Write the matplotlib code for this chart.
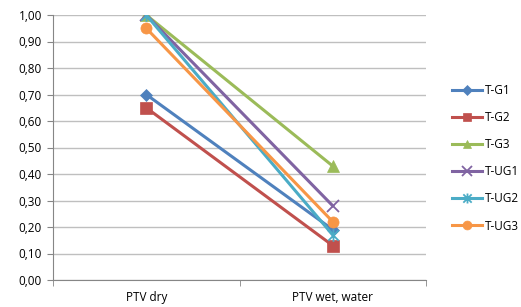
import matplotlib.pyplot as plt
import numpy as np
from matplotlib.path import Path
from matplotlib.ticker import FixedLocator

plt.rcParams['font.family'] = ['Open Sans', 'DejaVu Sans']

categories = ["PTV dry", "PTV wet, water"]
series_names = ["T-G1", "T-G2", "T-G3", "T-UG1", "T-UG2", "T-UG3"]
g1 = [0.70, 0.19]
g2 = [0.65, 0.13]
g3 = [1.00, 0.43]
ug1 = [1.00, 0.28]
ug2 = [1.00, 0.17]
ug3 = [0.95, 0.22]
y_ticks = [0.0, 0.1, 0.2, 0.3, 0.4, 0.5, 0.6, 0.7, 0.8, 0.9, 1.0]

# Excel-style star: an x with a vertical stroke through it
star = Path([(-1, -1), (1, 1), (-1, 1), (1, -1), (0, -1.2), (0, 1.2)],
            [Path.MOVETO, Path.LINETO] * 3)

colors = ["#4F81BD", "#C0504D", "#9BBB59", "#8064A2", "#4BACC6", "#F79646"]
markers = ["D", "s", "^", "x", star, "o"]
msizes = [6, 8, 8, 9, 9, 8]

fig = plt.figure(figsize=(5.21, 3.07), dpi=100)
ax = fig.add_axes([53 / 521, 1 - 280 / 307, 373 / 521, 265 / 307])

x = np.arange(len(categories))
for vals, name, c, m, ms in zip([g1, g2, g3, ug1, ug2, ug3], series_names, colors, markers, msizes):
    thin = isinstance(m, Path) or m == "x"
    ax.plot(x, vals, color=c, lw=2.2, marker=m, ms=ms, mew=1.3 if thin else 0.5,
            mec=c, label=name, zorder=3)

ax.set_xlim(-0.5, 1.5)
ax.set_ylim(0, 1.0)
ax.set_yticks(y_ticks)
ax.set_yticklabels([f"{v:.2f}".replace(".", ",") for v in y_ticks], fontsize=8.5)
ax.set_xticks(x)
ax.set_xticklabels(categories, fontsize=8.5)
ax.tick_params(axis='x', length=0, pad=8)
ax.xaxis.set_minor_locator(FixedLocator([-0.5, 0.5, 1.5]))
ax.tick_params(axis='x', which='minor', length=4, color="#868686")
ax.tick_params(axis='y', length=4, color="#868686", pad=4)
ax.grid(axis='y', color="#BFBFBF", lw=1)
ax.set_axisbelow(True)
for s in ["top", "right"]:
    ax.spines[s].set_visible(False)
for s in ["left", "bottom"]:
    ax.spines[s].set_color("#868686")

ax.legend(loc="center left", bbox_to_anchor=(1.04, 0.46), frameon=False, fontsize=8.5,
          handlelength=2.6, labelspacing=1.2, handletextpad=0.2, markerscale=0.8)

fig.savefig("out.png", dpi=100)
